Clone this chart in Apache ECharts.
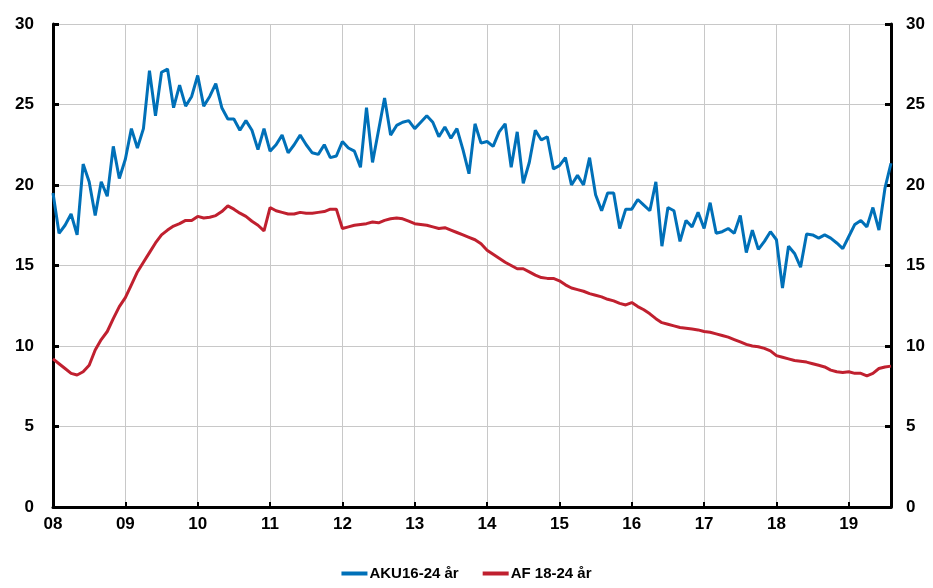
<!DOCTYPE html>
<html>
<head>
<meta charset="utf-8">
<script src="https://cdn.jsdelivr.net/npm/echarts@6/dist/echarts.min.js"></script>
<style>
html,body{margin:0;padding:0;background:#fff;}
#chart{width:933px;height:588px;}
</style>
</head>
<body>
<div id="chart"></div>
<script>
// Monthly data, Jan 2008 – Aug 2019
var startYear = 2008;
var seriesNames = ['AKU16-24 år', 'AF 18-24 år'];
var aku = [
19.5,17.0,17.5,18.2,16.9,21.3,20.2,18.1,20.2,19.3,22.4,20.4,
21.6,23.5,22.3,23.5,27.1,24.3,27.0,27.2,24.8,26.2,24.9,25.5,
26.8,24.9,25.5,26.3,24.8,24.1,24.1,23.4,24.0,23.4,22.2,23.5,
22.1,22.5,23.1,22.0,22.5,23.1,22.5,22.0,21.9,22.5,21.7,21.8,
22.7,22.3,22.1,21.1,24.8,21.4,23.4,25.4,23.1,23.7,23.9,24.0,
23.5,23.9,24.3,23.9,23.0,23.6,22.9,23.5,22.2,20.7,23.8,22.6,
22.7,22.4,23.3,23.8,21.1,23.3,20.1,21.4,23.4,22.8,23.0,21.0,
21.2,21.7,20.0,20.6,20.0,21.7,19.4,18.4,19.5,19.5,17.3,18.5,
18.5,19.1,18.75,18.4,20.2,16.2,18.6,18.4,16.5,17.8,17.4,18.3,
17.3,18.9,17.0,17.1,17.3,17.0,18.1,15.8,17.2,16.0,16.5,17.1,
16.6,13.6,16.2,15.75,14.9,16.95,16.9,16.7,16.9,16.7,16.4,16.05,
16.8,17.55,17.8,17.4,18.6,17.2,19.8,21.35
];
var af = [
9.2,8.9,8.6,8.3,8.2,8.4,8.8,9.75,10.4,10.9,11.7,12.45,
13.0,13.8,14.6,15.2,15.8,16.4,16.9,17.2,17.45,17.6,17.8,17.8,
18.05,17.95,18.0,18.1,18.35,18.7,18.5,18.25,18.05,17.75,17.5,17.15,
18.6,18.4,18.3,18.2,18.2,18.3,18.25,18.25,18.3,18.35,18.5,18.5,
17.3,17.4,17.5,17.55,17.6,17.7,17.65,17.8,17.9,17.95,17.9,17.75,
17.6,17.55,17.5,17.4,17.3,17.35,17.2,17.05,16.9,16.75,16.6,16.35,
15.95,15.7,15.45,15.2,15.0,14.8,14.8,14.6,14.4,14.25,14.2,14.2,
14.05,13.8,13.6,13.5,13.4,13.25,13.15,13.05,12.9,12.8,12.65,12.55,
12.7,12.45,12.25,12.0,11.7,11.45,11.35,11.25,11.15,11.1,11.05,11.0,
10.9,10.85,10.75,10.65,10.55,10.4,10.25,10.1,10.0,9.95,9.85,9.7,
9.4,9.3,9.2,9.1,9.05,9.0,8.9,8.8,8.7,8.5,8.4,8.35,
8.4,8.3,8.3,8.15,8.3,8.6,8.7,8.75
];
var yTicks = [0, 5, 10, 15, 20, 25, 30];

var categories = [];
for (var i = 0; i < aku.length; i++) {
  var y = startYear + Math.floor(i / 12);
  var m = (i % 12) + 1;
  categories.push(y + '-' + (m < 10 ? '0' + m : m));
}
function isYearStart(idx) { return idx % 12 === 0; }

var FONT = "'Liberation Sans Narrow', 'Liberation Sans', Arial, sans-serif";
var axisLineStyle = { color: '#000', width: 3 };

var chart = echarts.init(document.getElementById('chart'));
chart.setOption({
  animation: false,
  backgroundColor: '#fff',
  grid: { left: 53, right: 42, top: 24, bottom: 81, containLabel: false },
  legend: {
    bottom: 2, left: 'center',
    itemWidth: 26, itemHeight: 4, itemGap: 24,
    icon: 'rect',
    textStyle: { fontFamily: FONT, fontWeight: 'bold', fontSize: 15, color: '#000', padding: [0,0,0,-3] },
    data: seriesNames
  },
  xAxis: {
    type: 'category',
    data: categories,
    boundaryGap: false,
    axisLine: { lineStyle: axisLineStyle },
    axisTick: { show: true, inside: true, length: 5, lineStyle: { color: '#000', width: 2 },
      interval: function (idx) { return isYearStart(idx); } },
    axisLabel: {
      interval: function (idx) { return isYearStart(idx); },
      formatter: function (v) { return v.substr(2, 2); },
      fontFamily: FONT, fontWeight: 'bold', fontSize: 17, color: '#000', margin: 9
    },
    splitLine: { show: true, lineStyle: { color: '#c8c8c8', width: 1 },
      interval: function (idx) { return isYearStart(idx) && idx > 0; } }
  },
  yAxis: [
    {
      type: 'value', min: yTicks[0], max: yTicks[yTicks.length - 1], interval: 5, position: 'left',
      axisLine: { show: true, lineStyle: axisLineStyle },
      axisTick: { show: true, inside: true, length: 6, lineStyle: { color: '#000', width: 3 } },
      axisLabel: { fontFamily: FONT, fontWeight: 'bold', fontSize: 17, color: '#000', margin: 19 },
      splitLine: { show: true, lineStyle: { color: '#c8c8c8', width: 1 } }
    },
    {
      type: 'value', min: yTicks[0], max: yTicks[yTicks.length - 1], interval: 5, position: 'right',
      axisLine: { show: true, lineStyle: axisLineStyle },
      axisTick: { show: true, inside: true, length: 6, lineStyle: { color: '#000', width: 3 } },
      axisLabel: { fontFamily: FONT, fontWeight: 'bold', fontSize: 17, color: '#000', margin: 15 },
      splitLine: { show: false }
    }
  ],
  series: [
    { name: seriesNames[0], type: 'line', data: aku, yAxisIndex: 0, symbol: 'none',
      lineStyle: { color: '#0070b8', width: 3 }, itemStyle: { color: '#0070b8' }, z: 3 },
    { name: seriesNames[1], type: 'line', data: af, yAxisIndex: 0, symbol: 'none',
      lineStyle: { color: '#c0202f', width: 3 }, itemStyle: { color: '#c0202f' }, z: 2 }
  ]
});
</script>
</body>
</html>
